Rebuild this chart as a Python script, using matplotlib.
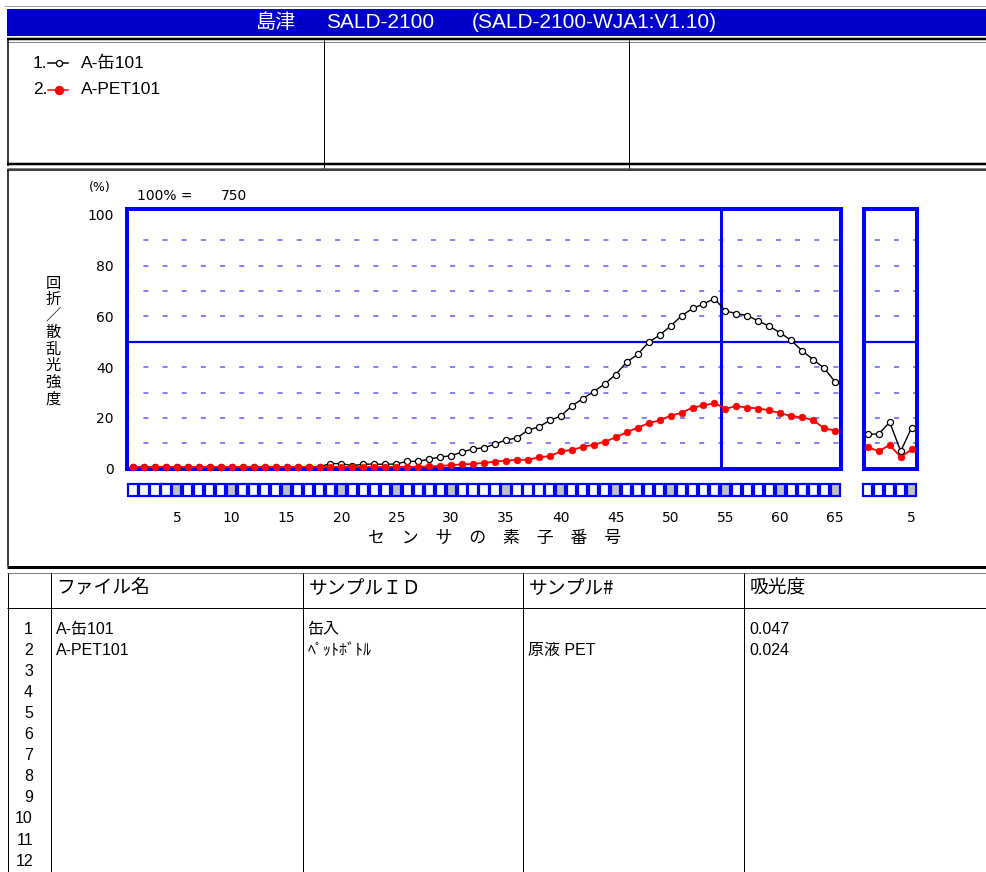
import matplotlib
matplotlib.use('Agg')
import matplotlib.pyplot as plt
from matplotlib.patches import Rectangle

plt.rcParams['lines.scale_dashes'] = False

# ---------------- data ----------------
sensors = list(range(1, 66))
can_vals = [0.8] * 18 + [2.0, 2.0, 1.2, 1.8, 1.8, 1.7, 1.9, 2.9, 2.9, 3.8, 4.6, 5.1,
                         6.6, 7.8, 8.2, 9.7, 11.3, 12.1, 15.2, 16.5, 19.0, 20.8,
                         24.7, 27.6, 30.4, 33.4, 37.1, 42.0, 45.0, 49.8, 52.6, 56.2,
                         60.2, 63.1, 64.9, 67.0, 62.1, 61.1, 60.3, 58.2, 56.1, 53.5,
                         50.5, 46.4, 43.0, 39.6, 34.2]
pet_vals = [0.7] * 27 + [0.9, 1.1, 1.4, 1.7, 1.9, 2.3, 2.8, 3.2, 3.5, 3.5, 4.5, 5.0,
                         6.8, 7.4, 8.6, 9.4, 10.7, 12.3, 14.4, 16.1, 18.0, 19.0, 20.9,
                         22.0, 24.1, 24.9, 25.8, 23.7, 24.6, 24.1, 23.7, 23.0, 21.9,
                         20.7, 20.3, 19.1, 15.9, 15.0]
high_sensors = [1, 2, 3, 4, 5]
can_high = [13.5, 13.7, 18.3, 6.9, 16.2]
pet_high = [8.5, 6.9, 9.3, 4.6, 7.6]
boundary_sensor = 54.57

ytick_vals = [0, 20, 40, 60, 80, 100]
xtick_vals = [5, 10, 15, 20, 25, 30, 35, 40, 45, 50, 55, 60, 65]
high_xticks = [5]
grid_vals = [10, 20, 30, 40, 60, 70, 80, 90]

title_maker = '島津'
title_model = 'SALD-2100'
title_version = '(SALD-2100-WJA1:V1.10)'
legend_labels = ['A-缶101', 'A-PET101']
full_scale_label = '100% ='
full_scale_value = '750'
y_label = '回折／散乱光強度'
x_label = 'センサの素子番号'
table_headers = ['ファイル名', 'サンプルＩＤ', 'サンプル#', '吸光度']
file_names = ['A-缶101', 'A-PET101']
sample_ids = ['缶入', 'ﾍﾟｯﾄﾎﾞﾄﾙ']
sample_nums = ['', '原液 PET']
absorbance = ['0.047', '0.024']
row_numbers = [str(i) for i in range(1, 13)]

# ---------------- layout helpers ----------------
W, H = 986, 872
PX = 72.0 / 100.0  # points per pixel
LAT = ['Liberation Sans', 'Noto Sans CJK JP']
CJK = ['Noto Sans CJK JP', 'DejaVu Sans']
BLUE = '#0000ff'
GRIDC = '#5a5aff'


def frac(x0, y0, x1, y1):
    return [x0 / W, 1 - y1 / H, (x1 - x0) / W, (y1 - y0) / H]


fig = plt.figure(figsize=(W / 100, H / 100), dpi=100)
ax0 = fig.add_axes([0, 0, 1, 1])
ax0.set_xlim(0, W)
ax0.set_ylim(H, 0)
ax0.axis('off')


def seg(x0, y0, x1, y1, lw_px=1, color='black'):
    ax0.plot([x0, x1], [y0, y1], color=color, lw=lw_px * PX, solid_capstyle='butt')


# title bar
seg(4, 6, W, 6, 1, '#a0a0a0')
ax0.add_patch(Rectangle((7, 9), W - 7, 27, fc='#0000c8', ec='none'))
ax0.text(255, 22.5, title_maker, family=CJK, fontsize=14.5, color='white', va='center', ha='left')
ax0.text(326, 22.5, title_model, family=LAT, fontsize=15, color='white', va='center', ha='left')
ax0.text(472, 22.5, title_version, family=LAT, fontsize=15, color='white', va='center', ha='left')

# header box
seg(7, 39.5, W, 39.5, 2.5)
seg(7, 42.5, W, 42.5, 1, '#808080')
seg(7, 164.5, W, 164.5, 2.5)
seg(7, 168, W, 168, 1, '#808080')
seg(7.5, 39, 7.5, 166, 1.5)
seg(324, 40, 324, 168, 1)
seg(629, 40, 629, 168, 1)

# legend
for i, (lab, col, face, ms) in enumerate(zip(legend_labels, ['black', 'red'],
                                            ['white', 'red'], [4.4, 5.8])):
    yy = 63 + i * 27
    ax0.text(33, yy, f'{i + 1}.', family=LAT, fontsize=12.5, va='center', ha='left')
    ax0.plot([48, 68], [yy, yy], color=col, lw=1.1)
    ax0.plot([59], [yy], marker='o', ms=ms, mfc=face, mec=col, mew=0.9)
    ax0.text(81, yy, lab, family=LAT, fontsize=12.5, va='center', ha='left')

# chart box
seg(7, 170.5, W, 170.5, 1.5)
seg(7.5, 170, 7.5, 566, 1.5)
seg(7, 566.5, W, 566.5, 3)

ax0.text(99.5, 187.5, '(%)', family='DejaVu Sans', fontsize=9, va='center', ha='center')
ax0.text(137, 196, full_scale_label, family='DejaVu Sans', fontsize=10, va='center', ha='left')
ax0.text(221, 196, full_scale_value, family='DejaVu Sans', fontsize=10, va='center', ha='left')
ax0.text(53, 341, '\n'.join(y_label), family=CJK, fontsize=11,
         va='center', ha='center', linespacing=0.96)
ax0.text(495, 538, '\u3000'.join(x_label), family=CJK, fontsize=12.2,
         va='center', ha='center')

# ---------------- main plot ----------------
Y0, Y1 = 208.7, 468.7
ax = fig.add_axes(frac(127, Y0, 840.5, Y1))
ax.set_xlim(0.453, 65.49)
ax.set_ylim(0, 102.4)
for sp in ax.spines.values():
    sp.set_color(BLUE)
    sp.set_linewidth(4 * PX)
for v in grid_vals:
    ax.axhline(v, color=GRIDC, lw=1.5 * PX, ls=(2, (3.6, 10.2)), zorder=1)
ax.axhline(50, color=BLUE, lw=2.2 * PX, zorder=2)
ax.axvline(boundary_sensor, color=BLUE, lw=3 * PX, zorder=2)
ax.plot(sensors, can_vals, color='black', lw=1.4 * PX, marker='o', ms=4.4, mfc='white',
        mec='black', mew=0.9, clip_on=False, zorder=5)
ax.plot(sensors, pet_vals, color='red', lw=1.8 * PX, marker='o', ms=4.8, mfc='red',
        mec='red', mew=0.5, clip_on=False, zorder=6)
ax.set_yticks(ytick_vals)
ax.set_yticklabels([str(v) for v in ytick_vals], family='DejaVu Sans', fontsize=10)
ax.set_xticks(xtick_vals)
ax.set_xticklabels([str(v) for v in xtick_vals], family='DejaVu Sans', fontsize=10)
ax.tick_params(axis='y', length=0, pad=13 * PX)
ax.tick_params(axis='x', length=0, pad=42 * PX)

# segment bar main
axb = fig.add_axes(frac(127, 483, 840.5, 497))
axb.set_xlim(0.453, 65.49)
axb.set_ylim(0, 1)
axb.axis('off')
for s in sensors:
    axb.add_patch(Rectangle((s - 0.42, 0.04), 0.84, 0.92,
                            fc='#c0c0c0' if s % 5 == 0 else 'white',
                            ec=BLUE, lw=2.2 * PX, clip_on=False))

# ---------------- high-angle panel ----------------
ax2 = fig.add_axes(frac(863.8, Y0, 916.7, Y1))
ax2.set_xlim(0.65, 5.45)
ax2.set_ylim(0, 102.4)
for sp in ax2.spines.values():
    sp.set_color(BLUE)
    sp.set_linewidth(4 * PX)
for v in grid_vals:
    ax2.axhline(v, color=GRIDC, lw=1.5 * PX, ls=(6, (3.6, 10.2)), zorder=1)
ax2.axhline(50, color=BLUE, lw=2.2 * PX, zorder=2)
ax2.plot(high_sensors, can_high, color='black', lw=1.4 * PX, marker='o', ms=4.4, mfc='white',
         mec='black', mew=0.9, clip_on=False, zorder=5)
ax2.plot(high_sensors, pet_high, color='red', lw=1.8 * PX, marker='o', ms=4.8, mfc='red',
         mec='red', mew=0.5, clip_on=False, zorder=4)
ax2.set_yticks([])
ax2.set_xticks(high_xticks)
ax2.set_xticklabels([str(v) for v in high_xticks], family='DejaVu Sans', fontsize=10)
ax2.tick_params(axis='x', length=0, pad=42 * PX)

axb2 = fig.add_axes(frac(863.8, 483, 916.7, 497))
axb2.set_xlim(0.65, 5.45)
axb2.set_ylim(0, 1)
axb2.axis('off')
for s in high_sensors:
    axb2.add_patch(Rectangle((s - 0.42, 0.04), 0.84, 0.92,
                             fc='#c0c0c0' if s % 5 == 0 else 'white',
                             ec=BLUE, lw=2.2 * PX, clip_on=False))

# ---------------- table ----------------
seg(7, 573, W, 573, 1, '#808080')
seg(7, 608, W, 608, 1)
seg(7.5, 573, 7.5, H, 1)
col_x = [50.5, 302.5, 523, 744]
for cx in col_x:
    seg(cx, 573, cx, H, 1)
for cx, hdr in zip(col_x, table_headers):
    ax0.text(cx + 6, 588, hdr, family=CJK, fontsize=13.5, va='center', ha='left')
for i, rn in enumerate(row_numbers):
    ax0.text(33, 629 + i * 21.1, rn, family=LAT, fontsize=11.5, va='center', ha='right')
for i in range(len(file_names)):
    yy = 629 + i * 21.1
    for cx, val in zip(col_x, [file_names[i], sample_ids[i], sample_nums[i], absorbance[i]]):
        if val:
            ax0.text(cx + 5, yy, val, family=LAT, fontsize=11.5, va='center', ha='left')

fig.savefig('out.png', dpi=100)
